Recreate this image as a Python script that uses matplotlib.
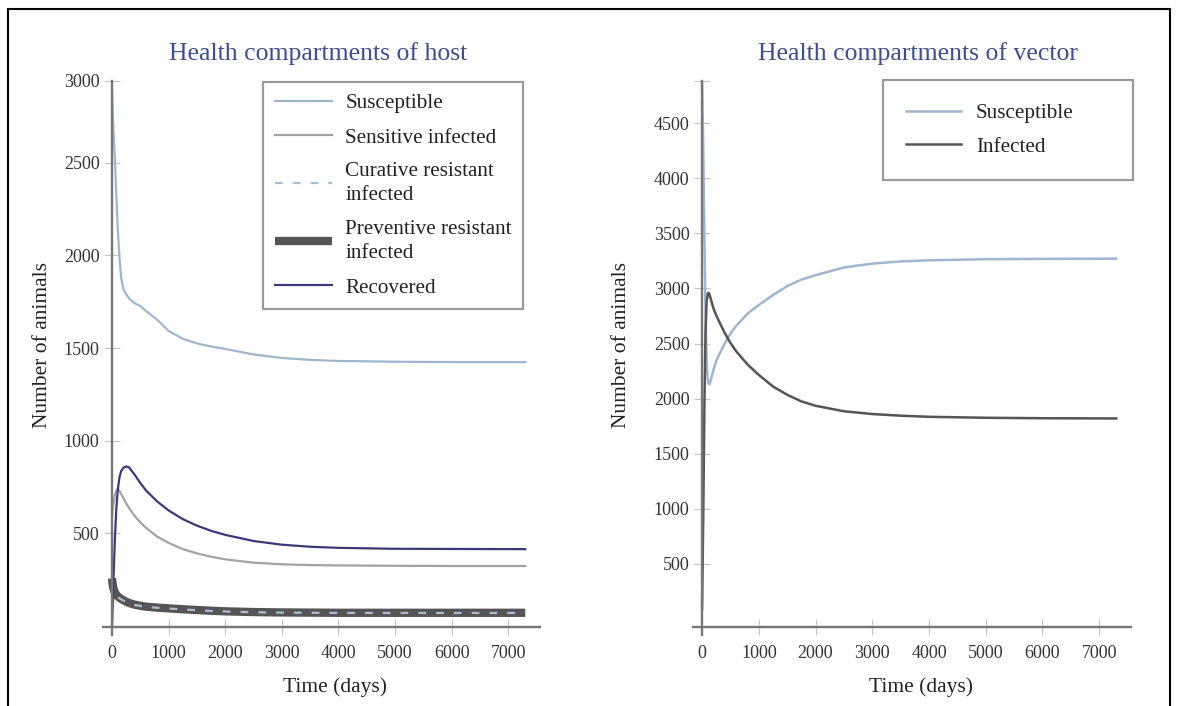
import matplotlib
matplotlib.use("Agg")
import matplotlib.pyplot as plt
from matplotlib.patches import Rectangle

W, H = 1178, 706

# host compartments (left panel)
t_host = [0, 10, 25, 50, 75, 100, 130, 160, 200, 250, 300, 400, 500, 600, 800,
          1000, 1250, 1500, 1750, 2000, 2500, 3000, 3500, 4000, 5000, 6000, 7300]
host_susceptible = [2890, 2800, 2680, 2520, 2330, 2150, 1990, 1880, 1820, 1790, 1768, 1742, 1727, 1700, 1652,
                    1592, 1550, 1525, 1508, 1495, 1465, 1446, 1436, 1430, 1426, 1424, 1424]
host_sensitive = [597, 625, 660, 705, 730, 738, 728, 712, 688, 660, 635, 592, 558, 528, 480,
                  447, 413, 390, 372, 358, 340, 331, 327, 325, 323, 322, 322]
host_curative = [240, 215, 195, 175, 163, 155, 148, 142, 135, 127, 120, 111, 106, 101, 96,
                 92, 87, 83, 79, 76, 72, 70, 69, 68, 68, 68, 68]
host_preventive = [255, 225, 200, 179, 166, 158, 150, 144, 137, 129, 122, 113, 107, 102, 97,
                   93, 88, 84, 80, 77, 73, 71, 70, 69, 69, 69, 69]
host_recovered = [0, 100, 250, 470, 630, 730, 800, 835, 852, 860, 855, 815, 770, 730, 670,
                  622, 575, 540, 512, 490, 457, 437, 426, 420, 415, 414, 413]

# vector compartments (right panel)
t_vec = [0, 20, 40, 60, 80, 100, 115, 130, 150, 200, 250, 300, 400, 500, 600, 800,
         1000, 1250, 1500, 1750, 2000, 2500, 3000, 3500, 4000, 5000, 6000, 7300]
vec_susceptible = [4880, 4300, 3500, 2800, 2350, 2170, 2135, 2130, 2160, 2260, 2340, 2400, 2500, 2590, 2660, 2770,
                   2850, 2940, 3020, 3080, 3120, 3190, 3225, 3245, 3255, 3265, 3268, 3270]
vec_infected = [90, 900, 1900, 2600, 2880, 2950, 2960, 2945, 2910, 2820, 2755, 2700, 2595, 2505, 2430, 2310,
                2215, 2110, 2035, 1975, 1935, 1885, 1860, 1845, 1835, 1826, 1822, 1820]

x_ticks = [0, 1000, 2000, 3000, 4000, 5000, 6000, 7000]

SERIF = "Liberation Serif"
plt.rcParams["font.family"] = [SERIF, "DejaVu Serif"]

fig = plt.figure(figsize=(W / 100, H / 100), dpi=100)


def px_axes(x0, x1, y0, y1):
    return fig.add_axes([x0 / W, 1 - y1 / H, (x1 - x0) / W, (y1 - y0) / H])


def style_axes(ax, xaxis_y):
    for s in ["top", "right"]:
        ax.spines[s].set_visible(False)
    for s in ["left", "bottom"]:
        ax.spines[s].set_color("#777777")
        ax.spines[s].set_linewidth(1.7)
    ax.spines["left"].set_position(("data", 0))
    ax.spines["bottom"].set_position(("data", xaxis_y))
    ax.tick_params(direction="inout", length=12, width=0.8, color="#c4c4c4",
                   labelsize=13, labelcolor="#333333", pad=3)
    ax.tick_params(axis="x", pad=7)
    ax.set_xticks(x_ticks)
    ax.set_xlim(-160, 7560)
    ax.patch.set_visible(False)


def style_legend(leg):
    leg.get_frame().set_linewidth(1.6)
    for txt in leg.get_texts():
        txt.set_color("#222222")
        txt.set_linespacing(1.4)


SUS_C = "#9fb6cf"

# left panel
ax1 = px_axes(103, 540, 81, 635)
ax1.plot(t_host, host_susceptible, color=SUS_C, lw=1.6, label="Susceptible")
ax1.plot(t_host, host_sensitive, color="#a3a3a3", lw=1.6, label="Sensitive infected")
l_prev, = ax1.plot(t_host, host_preventive, color="#555555", lw=6, solid_capstyle="butt")
l_cur, = ax1.plot(t_host, host_curative, color="#a9bfd6", lw=1.6, dashes=(3.5, 4.5))
ax1.plot(t_host, host_recovered, color="#3b3a78", lw=1.6, label="Recovered")
style_axes(ax1, -8)
ax1.set_ylim(-51, 2943)
ax1.set_yticks([500, 1000, 1500, 2000, 2500, 2943])
ax1.set_yticklabels(["500", "1000", "1500", "2000", "2500", "3000"])

handles, labels = ax1.get_legend_handles_labels()
handles = handles[:2] + [l_cur, l_prev] + handles[2:]
labels = labels[:2] + ["Curative resistant\ninfected", "Preventive resistant\ninfected"] + labels[2:]
leg1 = ax1.legend(handles, labels, loc="upper left", bbox_to_anchor=(263 / W, 1 - 82 / H),
                  bbox_transform=fig.transFigure, borderaxespad=0, fancybox=False,
                  edgecolor="#9a9a9a", fontsize=15.2, handlelength=2.7, handletextpad=0.65,
                  labelspacing=0.68, borderpad=0.55, framealpha=1)
style_legend(leg1)

# right panel
ax2 = px_axes(693, 1131, 81, 635)
ax2.plot(t_vec, vec_susceptible, color=SUS_C, lw=1.8, label="Susceptible")
ax2.plot(t_vec, vec_infected, color="#555555", lw=1.8, label="Infected")
style_axes(ax2, -73)
ax2.set_ylim(-145, 4882)
ax2.set_yticks([500, 1000, 1500, 2000, 2500, 3000, 3500, 4000, 4500, 4882])
ax2.set_yticklabels(["500", "1000", "1500", "2000", "2500", "3000", "3500", "4000", "4500", ""])
leg2 = ax2.legend(loc="upper left", bbox_to_anchor=(883 / W, 1 - 80 / H, 250 / W, 0),
                  bbox_transform=fig.transFigure, mode="expand", borderaxespad=0, fancybox=False,
                  edgecolor="#9a9a9a", fontsize=15.2, handlelength=2.6, handletextpad=0.7,
                  labelspacing=0.65, borderpad=1.1, framealpha=1)
style_legend(leg2)

# titles and axis labels
title_c = "#3f4f8c"
fig.text(318 / W, 1 - 54 / H, "Health compartments of host", ha="center", va="center",
         fontsize=18.5, color=title_c)
fig.text(918 / W, 1 - 54 / H, "Health compartments of vector", ha="center", va="center",
         fontsize=18.5, color=title_c)
for xc in (335, 921):
    fig.text(xc / W, 1 - 687 / H, "Time (days)", ha="center", va="center", fontsize=15.5, color="#222222")
for xc in (43, 622):
    fig.text(xc / W, 1 - 345 / H, "Number of animals", ha="center", va="center", rotation=90,
             fontsize=15.5, color="#222222")

# outer frame
fig.patches.append(Rectangle((8 / W, -0.02), (1170 - 8) / W, 1 - 9 / H + 0.02,
                             transform=fig.transFigure, fill=False, edgecolor="black", lw=1.5))

fig.savefig("out.png", dpi=100)
